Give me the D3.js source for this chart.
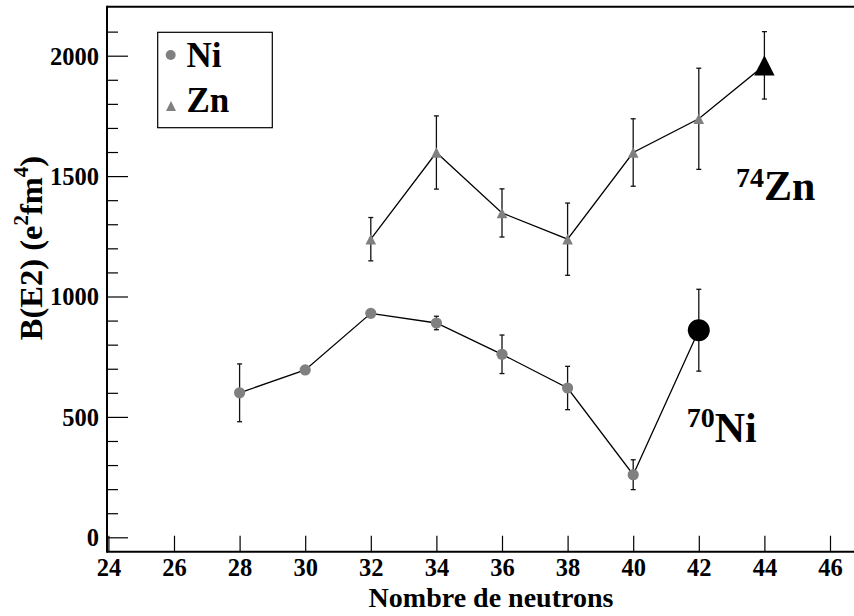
<!DOCTYPE html>
<html><head><meta charset="utf-8">
<script src="https://cdn.jsdelivr.net/npm/d3@7"></script>
<style>body{margin:0;background:#fff}svg{display:block}svg text{font-family:"Liberation Serif","Times New Roman",serif !important;font-weight:bold}</style>
</head><body>
<svg id="c" width="854" height="616"></svg>
<script>
const niN = [28, 30, 32, 34, 36, 38, 40];
const niVal = [600, 695, 930, 890, 760, 620, 260];
const niErr = [120, 12, 10, 28, 80, 90, 62];
const ni70 = {n: 42, v: 860, e: 170};
const znN = [32, 34, 36, 38, 40, 42];
const znVal = [1238, 1598, 1347, 1238, 1598, 1738];
const znErr = [90, 152, 100, 150, 140, 210];
const zn74 = {n: 44, v: 1960, e: 140};
const xTicks = [24, 26, 28, 30, 32, 34, 36, 38, 40, 42, 44, 46];
const yMajor = [0, 500, 1000, 1500, 2000];
const yMinor = [100, 200, 300, 400, 600, 700, 800, 900, 1100, 1200, 1300, 1400, 1600, 1700, 1800, 1900, 2100];

const FONT = '"Liberation Serif","Times New Roman",serif';
const svg = d3.select("#c");
const x = d3.scaleLinear().domain([24, 46]).range([108.4, 830]);
const y = d3.scaleLinear().domain([0, 2000]).range([537.3, 55.7]);
const L = 107, R = 854, T = 6.7, B = 551.7;

// frame
svg.append("line").attr("x1", L).attr("x2", R).attr("y1", T).attr("y2", T).attr("stroke", "#000").attr("stroke-width", 2);

// x axis
const gx = svg.append("g").attr("transform", `translate(0,${B})`)
  .call(d3.axisBottom(x).tickValues(xTicks).tickSize(-16).tickPadding(8).tickFormat(d3.format("d")));
gx.attr("font-family", null).attr("font-size", null);
gx.select(".domain").remove();
gx.selectAll(".tick line").attr("stroke", "#000").attr("stroke-width", 1.2);
gx.selectAll(".tick text").attr("font-size", 24.5).attr("fill", "#000").attr("y", 24.5).attr("dy", 0);
svg.append("line").attr("x1", L).attr("x2", R).attr("y1", B).attr("y2", B).attr("stroke", "#000").attr("stroke-width", 2);

// y axis
const gy = svg.append("g").attr("transform", `translate(${L},0)`)
  .call(d3.axisLeft(y).tickValues(yMajor).tickSize(-21).tickPadding(8).tickFormat(d3.format("d")));
gy.attr("font-family", null).attr("font-size", null);
gy.select(".domain").remove();
gy.selectAll(".tick line").attr("stroke", "#000").attr("stroke-width", 1.2);
gy.selectAll(".tick text").attr("font-size", 24.5).attr("fill", "#000").attr("x", -8).attr("dy", "0.34em");
const gym = svg.append("g").attr("transform", `translate(${L},0)`)
  .call(d3.axisLeft(y).tickValues(yMinor).tickSize(-11).tickFormat(""));
gym.select(".domain").remove();
gym.selectAll(".tick line").attr("stroke", "#000").attr("stroke-width", 1.2);
svg.append("line").attr("x1", L).attr("x2", L).attr("y1", T - 1).attr("y2", B + 1).attr("stroke", "#000").attr("stroke-width", 2);

// titles
svg.append("text").attr("x", 491).attr("y", 606.5).attr("text-anchor", "middle").attr("font-size", 28).text("Nombre de neutrons");
const yt = svg.append("text").attr("transform", "translate(41.5,248) rotate(-90)").attr("text-anchor", "middle").attr("font-size", 32.5);
yt.append("tspan").text("B(E2) (e");
yt.append("tspan").attr("font-size", 21).attr("dy", -14).text("2");
yt.append("tspan").attr("dy", 14).text("fm");
yt.append("tspan").attr("font-size", 21).attr("dy", -14).text("4");
yt.append("tspan").attr("dy", 14).text(")");

const line = d3.line().x(d => x(d[0])).y(d => y(d[1]));
function errbars(data, color) {
  const g = svg.append("g").attr("stroke", color).attr("stroke-width", 1.3);
  data.forEach(([n, v, e]) => {
    g.append("line").attr("x1", x(n)).attr("x2", x(n)).attr("y1", y(v - e)).attr("y2", y(v + e));
    g.append("line").attr("x1", x(n) - 2.5).attr("x2", x(n) + 2.5).attr("y1", y(v - e)).attr("y2", y(v - e));
    g.append("line").attr("x1", x(n) - 2.5).attr("x2", x(n) + 2.5).attr("y1", y(v + e)).attr("y2", y(v + e));
  });
}
const niData = niN.map((n, i) => [n, niVal[i], niErr[i]]).concat([[ni70.n, ni70.v, ni70.e]]);
const znData = znN.map((n, i) => [n, znVal[i], znErr[i]]).concat([[zn74.n, zn74.v, zn74.e]]);
errbars(niData, "#111");
errbars(znData, "#111");
svg.append("path").attr("d", line(niData)).attr("fill", "none").attr("stroke", "#000").attr("stroke-width", 1.3);
svg.append("path").attr("d", line(znData)).attr("fill", "none").attr("stroke", "#000").attr("stroke-width", 1.3);

const tri = s => `M0,${-s}L${s},${s}L${-s},${s}Z`;
svg.selectAll(".ni").data(niN).join("circle").attr("cx", (d) => x(d)).attr("cy", (d, i) => y(niVal[i])).attr("r", 5.6).attr("fill", "#808080");
svg.append("circle").attr("cx", x(ni70.n)).attr("cy", y(ni70.v)).attr("r", 11).attr("fill", "#000");
svg.selectAll(".zn").data(znN).join("path").attr("d", tri(5.3)).attr("transform", (d, i) => `translate(${x(d)},${y(znVal[i])})`).attr("fill", "#808080");
svg.append("path").attr("d", tri(10.2)).attr("transform", `translate(${x(zn74.n)},${y(zn74.v)})`).attr("fill", "#000");

// legend
svg.append("rect").attr("x", 157.7).attr("y", 32.3).attr("width", 114.6).attr("height", 95.4).attr("fill", "#fff").attr("stroke", "#000").attr("stroke-width", 1.2);
svg.append("circle").attr("cx", 170.7).attr("cy", 55).attr("r", 5).attr("fill", "#808080");
svg.append("path").attr("d", tri(5)).attr("transform", "translate(171,106)").attr("fill", "#808080");
svg.append("text").attr("x", 186.5).attr("y", 66.7).attr("font-size", 35).text("Ni");
svg.append("text").attr("x", 186.5).attr("y", 111.7).attr("font-size", 35).text("Zn");

// annotations
const a1 = svg.append("text").attr("x", 736).attr("y", 200).attr("font-size", 42);
a1.append("tspan").attr("font-size", 28).attr("dy", -13.3).text("74");
a1.append("tspan").attr("dy", 13.3).text("Zn");
const a2 = svg.append("text").attr("x", 686.7).attr("y", 441.7).attr("font-size", 42);
a2.append("tspan").attr("font-size", 28).attr("dy", -14.4).text("70");
a2.append("tspan").attr("dy", 14.4).text("Ni");

svg.selectAll("text").style("font-family", FONT).style("font-weight", "bold");
</script>
</body></html>
